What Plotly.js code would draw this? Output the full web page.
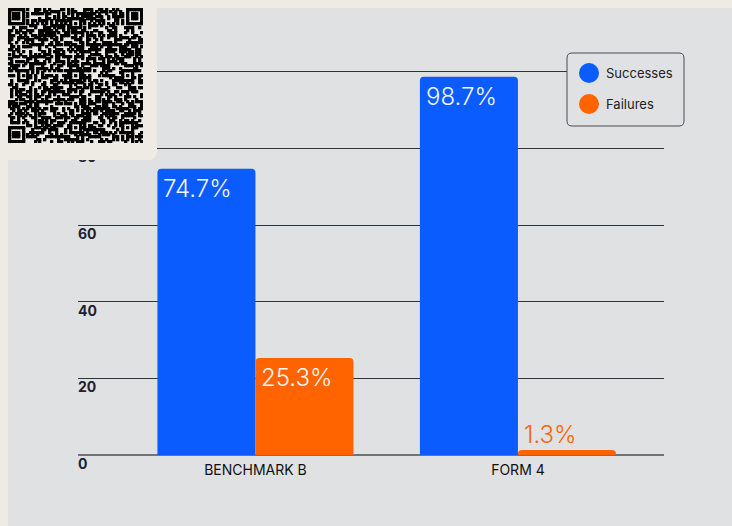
<!DOCTYPE html>
<html>
<head>
<meta charset="utf-8">
<script src="https://cdn.plot.ly/plotly-3.0.1.min.js"></script>
<style>
  html, body { margin:0; padding:0; background:#eeebe4; width:732px; height:526px; overflow:hidden; }
  #panel { position:absolute; left:8px; top:8px; width:740px; height:540px; background:#e0e1e3; border-radius:9px; }
  #chart { position:absolute; left:0; top:0; width:732px; height:526px; }
  #qrbox { position:absolute; left:0; top:0; width:157px; height:160px; background:#eeebe4; border-radius:0 0 8px 0; }
  #qr { position:absolute; left:8px; top:8px; }
</style>
</head>
<body>
<div id="panel"></div>
<div id="chart"></div>
<div id="qrbox"><canvas id="qr" width="135" height="135"></canvas></div>
<script>
// ---- data ----
const categories = ["BENCHMARK B", "FORM 4"];
const successes = [74.7, 98.7];
const failures = [25.3, 1.3];
const seriesNames = ["Successes", "Failures"];
const yTickVals = [0, 20, 40, 60, 80, 100];
const yTickText = ["0", "20", "40", "60", "80", "100"];

// ---- styling ----
const BLUE = "#0b5cff", ORANGE = "#ff6400";
const W = 732, H = 526;
const M = {l: 78, r: 68, t: 68, b: 71};
const PW = W - M.l - M.r, PH = H - M.t - M.b;
const px = x => (x - M.l) / PW;
const py = y => (H - M.b - y) / PH;

const GROUP = 0.747;
const traces = [
  {type: "bar", name: seriesNames[0], x: categories, y: successes,
   marker: {color: BLUE, cornerradius: 4}, showlegend: false, hoverinfo: "none"},
  {type: "bar", name: seriesNames[1], x: categories, y: failures,
   marker: {color: ORANGE, cornerradius: 4}, showlegend: false, hoverinfo: "none"}
];

const annotations = [];
const font = "Inter, 'Open Sans', sans-serif";
function barLabel(vals, offset, color) {
  vals.forEach((v, i) => {
    const inside = v > 10;
    annotations.push({
      xref: "x", yref: "y", x: i + offset, y: v,
      text: v.toFixed(1) + "%", showarrow: false,
      xanchor: "left", yanchor: inside ? "top" : "bottom",
      xshift: 4, yshift: inside ? -3 : -1,
      font: {family: font, size: 24, color: inside ? "#f2f4f8" : color, weight: 300}
    });
  });
}
barLabel(successes, -GROUP / 2, BLUE);
barLabel(failures, 0, ORANGE);

yTickVals.forEach((v, i) => {
  annotations.push({
    xref: "paper", yref: "y", x: 0, y: v, text: yTickText[i], showarrow: false,
    xanchor: "left", yanchor: "top", xshift: -2, yshift: 2,
    font: {family: font, size: 14, color: "#1c2230", weight: 700}
  });
});

// custom legend
const LG = {x0: 567, y0: 53, x1: 684, y1: 126, r: 5};
function roundRectPath(b) {
  const P = (x, y) => px(x) + "," + py(y);
  return "M" + P(b.x0 + b.r, b.y0) + " L" + P(b.x1 - b.r, b.y0) +
    " Q" + P(b.x1, b.y0) + " " + P(b.x1, b.y0 + b.r) +
    " L" + P(b.x1, b.y1 - b.r) + " Q" + P(b.x1, b.y1) + " " + P(b.x1 - b.r, b.y1) +
    " L" + P(b.x0 + b.r, b.y1) + " Q" + P(b.x0, b.y1) + " " + P(b.x0, b.y1 - b.r) +
    " L" + P(b.x0, b.y0 + b.r) + " Q" + P(b.x0, b.y0) + " " + P(b.x0 + b.r, b.y0) + " Z";
}
const shapes = [{
  type: "path", xref: "paper", yref: "paper", path: roundRectPath(LG),
  fillcolor: "#e0e1e3", line: {color: "#474c54", width: 1}, layer: "above"
}];
const legendColors = [BLUE, ORANGE];
const legendY = [73, 104];
seriesNames.forEach((n, i) => {
  const cx = 589, cy = legendY[i], r = 10;
  shapes.push({type: "circle", xref: "paper", yref: "paper",
    x0: px(cx - r), x1: px(cx + r), y0: py(cy + r), y1: py(cy - r),
    fillcolor: legendColors[i], line: {width: 0}, layer: "above"});
  annotations.push({xref: "paper", yref: "paper", x: px(604), y: py(cy), text: n,
    showarrow: false, xanchor: "left", yanchor: "middle",
    font: {family: font, size: 13, color: "#222"}});
});

const layout = {
  width: W, height: H, margin: M,
  paper_bgcolor: "rgba(0,0,0,0)", plot_bgcolor: "rgba(0,0,0,0)",
  barmode: "group", bargap: 0.253, bargroupgap: 0,
  showlegend: false,
  xaxis: {type: "category", range: [-0.676, 1.5564], showgrid: false, zeroline: false,
    showline: false, ticks: "", ticklabelstandoff: 5,
    tickfont: {family: font, size: 14, color: "#111"}, fixedrange: true},
  yaxis: {range: [0, 101], tickvals: yTickVals, showticklabels: false, showgrid: true,
    gridcolor: "#2e343d", gridwidth: 1, zeroline: true, zerolinecolor: "#6f747b", zerolinewidth: 2,
    layer: "above traces", fixedrange: true},
  annotations: annotations, shapes: shapes,
  font: {family: font}
};
Plotly.newPlot("chart", traces, layout, {displayModeBar: false, staticPlot: true});

// decorative QR-like pattern
(function () {
  const c = document.getElementById("qr"), g = c.getContext("2d");
  const N = 57, s = 135 / N;
  const grid = [];
  for (let y = 0; y < N; y++) { grid.push([]); for (let x = 0; x < N; x++) {
    let h = (x * 374761393 + y * 668265263) >>> 0; h = ((h ^ (h >>> 13)) * 1274126177) >>> 0;
    grid[y].push(((h >>> 16) & 1) === 1);
  } }
  function finder(ox, oy) {
    for (let y = -1; y < 8; y++) for (let x = -1; x < 8; x++) {
      const X = ox + x, Y = oy + y; if (X < 0 || Y < 0 || X >= N || Y >= N) continue;
      const ring = Math.max(Math.abs(x - 3), Math.abs(y - 3));
      grid[Y][X] = ring === 3 || ring <= 1;
    }
  }
  finder(0, 0); finder(N - 7, 0); finder(0, N - 7);
  for (let i = 8; i < N - 8; i++) { grid[6][i] = i % 2 === 0; grid[i][6] = i % 2 === 0; }
  const al = [6, 28, 50];
  al.forEach(ay => al.forEach(ax => {
    if ((ax === 6 && ay === 6) || (ax === 50 && ay === 6) || (ax === 6 && ay === 50)) return;
    for (let y = -2; y <= 2; y++) for (let x = -2; x <= 2; x++) {
      const ring = Math.max(Math.abs(x), Math.abs(y));
      grid[ay + y][ax + x] = ring !== 1;
    }
  }));
  g.fillStyle = "#eeebe4"; g.fillRect(0, 0, 135, 135);
  g.fillStyle = "#000";
  for (let y = 0; y < N; y++) for (let x = 0; x < N; x++)
    if (grid[y][x]) g.fillRect(Math.floor(x * s), Math.floor(y * s), Math.ceil(s) + 0.3, Math.ceil(s) + 0.3);
})();
</script>
</body>
</html>
